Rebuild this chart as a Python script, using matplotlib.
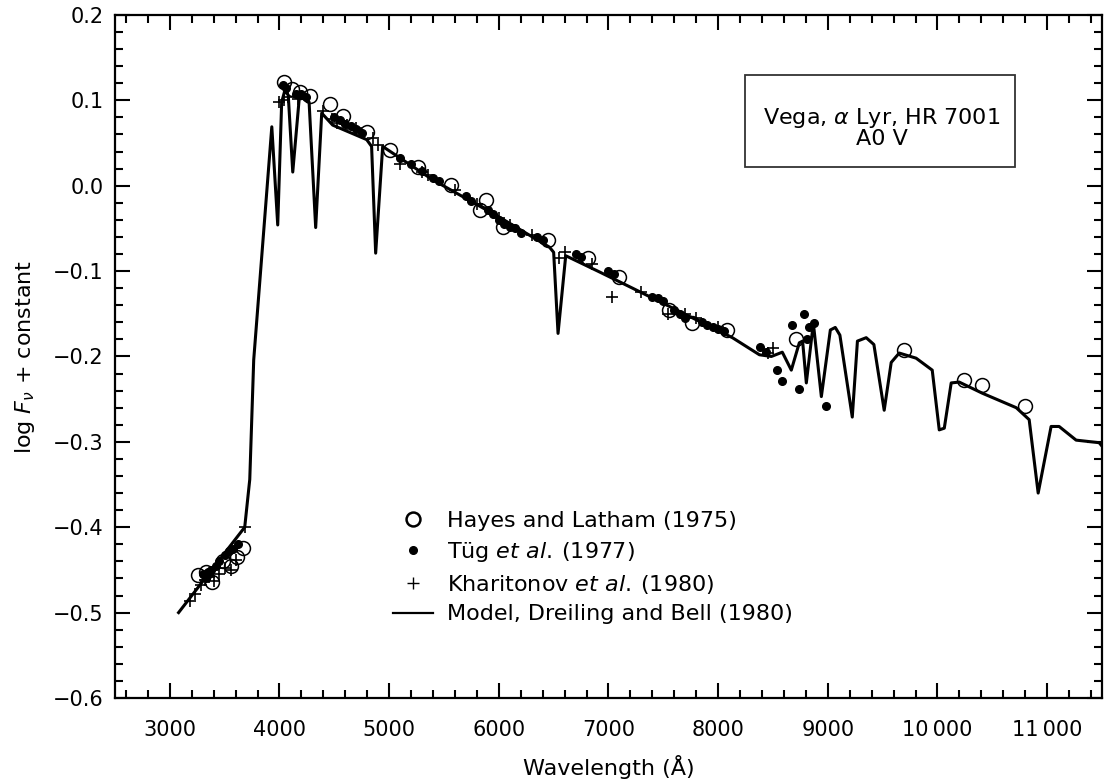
import matplotlib
matplotlib.use('Agg')
import matplotlib.pyplot as plt
from matplotlib.lines import Line2D
from matplotlib.patches import Rectangle
from matplotlib.ticker import MultipleLocator

plt.rcParams['font.family'] = ['DejaVu Sans']
plt.rcParams['mathtext.fontset'] = 'dejavusans'

# model spectrum, Dreiling and Bell (1980)
model_wl = [3080, 3683, 3729, 3765, 3930, 3984, 4020, 4050, 4080, 4121, 4184,
            4257, 4270, 4330, 4385, 4485, 4795, 4840, 4877, 4941, 5396, 6007,
            6462, 6500, 6540, 6610, 6918, 7219, 8130, 8376, 8485, 8585, 8667,
            8740, 8770, 8804, 8868, 8941, 9023, 9068, 9110, 9223, 9270, 9350,
            9420, 9514, 9578, 9651, 9805, 9952, 10016, 10062, 10125, 10198,
            10408, 10718, 10836, 10918, 11036, 11109, 11264, 11474, 11500]
model_flux = [-0.500, -0.400, -0.344, -0.204, 0.069, -0.046, 0.098, 0.112, 0.106,
              0.016, 0.108, 0.100, 0.098, -0.049, 0.085, 0.071, 0.054, 0.046,
              -0.079, 0.046, 0.007, -0.037, -0.072, -0.078, -0.173, -0.082,
              -0.101, -0.120, -0.178, -0.198, -0.200, -0.195, -0.216, -0.184,
              -0.182, -0.231, -0.161, -0.247, -0.169, -0.166, -0.175, -0.271,
              -0.182, -0.178, -0.186, -0.263, -0.207, -0.196, -0.202, -0.216,
              -0.286, -0.284, -0.231, -0.230, -0.243, -0.260, -0.274, -0.360,
              -0.282, -0.282, -0.298, -0.301, -0.305]

# Hayes and Latham (1975)
hayes_wl = [3255, 3330, 3383, 3483, 3560, 3610, 3665, 4039, 4110, 4190, 4276,
            4458, 4576, 4795, 5005, 5260, 5560, 5825, 5880, 6034, 6444, 6809,
            7100, 7556, 7765, 8085, 8713, 9697, 10244, 10408, 10800]
hayes_flux = [-0.456, -0.452, -0.464, -0.440, -0.445, -0.435, -0.424, 0.122,
              0.113, 0.110, 0.105, 0.096, 0.082, 0.063, 0.042, 0.022, 0.001,
              -0.028, -0.017, -0.048, -0.064, -0.085, -0.107, -0.145, -0.161,
              -0.169, -0.180, -0.192, -0.227, -0.233, -0.258]

# Tug et al. (1977)
tug_wl = [3300, 3330, 3350, 3380, 3420, 3450, 3500, 3540, 3580, 3620,
          4030, 4060, 4150, 4200, 4240, 4500, 4550, 4600, 4650, 4700, 4750,
          5100, 5200, 5300, 5400, 5450, 5700, 5750, 5900, 5950, 6000, 6050,
          6100, 6150, 6200, 6350, 6400, 6700, 6750, 7000, 7050, 7400, 7450,
          7500, 7600, 7650, 7700, 7850, 7900, 7950, 8000, 8050,
          8385, 8440, 8540, 8585, 8677, 8740, 8786, 8813, 8831, 8877, 8986]
tug_flux = [-0.455, -0.460, -0.452, -0.450, -0.445, -0.440, -0.432, -0.428,
            -0.425, -0.420, 0.118, 0.115, 0.108, 0.107, 0.104, 0.080, 0.077,
            0.072, 0.070, 0.066, 0.062, 0.032, 0.025, 0.017, 0.009, 0.006,
            -0.012, -0.018, -0.028, -0.033, -0.040, -0.045, -0.048, -0.050,
            -0.055, -0.060, -0.064, -0.080, -0.083, -0.100, -0.103, -0.130,
            -0.131, -0.135, -0.145, -0.150, -0.155, -0.160, -0.163, -0.165,
            -0.168, -0.170, -0.189, -0.195, -0.216, -0.229, -0.163, -0.238,
            -0.150, -0.180, -0.166, -0.161, -0.258]

# Kharitonov et al. (1980)
khar_wl = [3182, 3230, 3280, 3320, 3360, 3400, 3450, 3500, 3560, 3600, 3683,
           4000, 4040, 4080, 4170, 4400, 4480, 4520, 4620, 4700, 4850, 4900,
           5100, 5300, 5350, 5600, 5800, 6000, 6100, 6300, 6550, 6600, 6850,
           7036, 7300, 7540, 7700, 7800, 8000, 8450, 8500]
khar_flux = [-0.487, -0.478, -0.468, -0.462, -0.458, -0.463, -0.455, -0.448,
             -0.450, -0.438, -0.400, 0.098, 0.100, 0.104, 0.102, 0.088, 0.078,
             0.074, 0.071, 0.068, 0.056, 0.048, 0.026, 0.016, 0.012, -0.005,
             -0.022, -0.038, -0.046, -0.058, -0.085, -0.078, -0.092, -0.130,
             -0.125, -0.150, -0.150, -0.155, -0.165, -0.196, -0.190]

x_ticks = [3000, 4000, 5000, 6000, 7000, 8000, 9000, 10000, 11000]
x_ticklabels = ['3000', '4000', '5000', '6000', '7000', '8000', '9000',
                '10\u2009000', '11\u2009000']
y_ticks = [0.2, 0.1, 0.0, -0.1, -0.2, -0.3, -0.4, -0.5, -0.6]
y_ticklabels = ['0.2', '0.1', '0.0', '\u22120.1', '\u22120.2', '\u22120.3',
                '\u22120.4', '\u22120.5', '\u22120.6']

fig = plt.figure(figsize=(11.12, 7.83), dpi=100)
ax = fig.add_axes([0.1034, 0.1086, 0.8876, 0.8723])

ax.plot(model_wl, model_flux, color='black', linewidth=2.2, zorder=2)
ax.plot(hayes_wl, hayes_flux, linestyle='none', marker='o', markersize=10,
        markerfacecolor='none', markeredgecolor='black', markeredgewidth=1.1, zorder=3)
ax.plot(tug_wl, tug_flux, linestyle='none', marker='o', markersize=5.5,
        color='black', zorder=3)
ax.plot(khar_wl, khar_flux, linestyle='none', marker='+', markersize=9,
        markeredgewidth=1.2, color='black', zorder=3)

ax.set_xlim(2500, 11500)
ax.set_ylim(-0.6, 0.2)
ax.xaxis.set_minor_locator(MultipleLocator(200))
ax.yaxis.set_minor_locator(MultipleLocator(0.02))
ax.set_xticks(x_ticks)
ax.set_xticklabels(x_ticklabels)
ax.set_yticks(y_ticks)
ax.set_yticklabels(y_ticklabels)

ax.tick_params(which='both', direction='in', top=True, right=True,
               labelsize=15, width=1.5)
ax.tick_params(axis='x', which='both', pad=16)
ax.tick_params(axis='y', which='both', pad=8)
ax.tick_params(which='major', length=11)
ax.tick_params(which='minor', length=6)
for s in ax.spines.values():
    s.set_linewidth(1.6)

ax.set_xlabel('Wavelength (Å)', fontsize=16, labelpad=11)
ax.set_ylabel('log $F_\\nu$ + constant', fontsize=16)
ax.yaxis.set_label_coords(-0.079, 0.5)

# info box
ax.add_patch(Rectangle((0.638, 0.777), 0.274, 0.135, transform=ax.transAxes,
                       fill=False, edgecolor='#333333', linewidth=1.3, zorder=4))
ax.text(0.777, 0.835, 'Vega, $\\alpha$ Lyr, HR 7001\nA0 V', transform=ax.transAxes,
        ha='center', va='center', fontsize=16, linespacing=0.95)

handles = [
    Line2D([], [], linestyle='none', marker='o', markersize=10, markerfacecolor='none',
           markeredgecolor='black', markeredgewidth=1.8),
    Line2D([], [], linestyle='none', marker='o', markersize=5.5, color='black'),
    Line2D([], [], linestyle='none', marker='+', markersize=8, markeredgewidth=1.0,
           color='black'),
    Line2D([], [], color='black', linewidth=1.6),
]
labels = ['Hayes and Latham (1975)', 'Tüg $et\\ al.$\u2009(1977)',
          'Kharitonov $et\\ al.$\u2009(1980)', 'Model, Dreiling and Bell (1980)']
ax.legend(handles, labels, loc='upper left', bbox_to_anchor=(0.282, 0.274),
          frameon=False, fontsize=16, handlelength=1.8, handletextpad=0.63,
          labelspacing=0.4, borderpad=0, borderaxespad=0)

fig.savefig('out.png', dpi=100)
